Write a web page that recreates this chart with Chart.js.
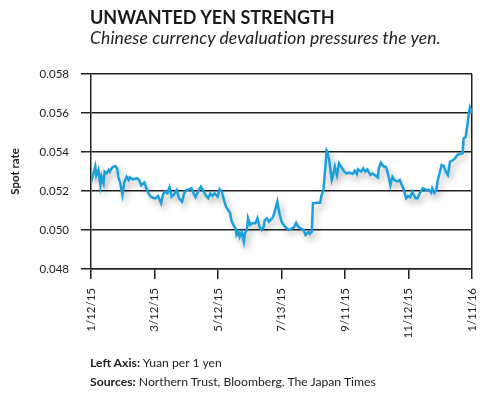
<!DOCTYPE html>
<html lang="en">
<head>
<meta charset="UTF-8">
<title>Unwanted Yen Strength</title>
<script src="https://cdn.jsdelivr.net/npm/chart.js"></script>
<style>
  body { margin: 0; background: #fff; font-family: 'Lato', sans-serif; color: #1a1a1a; }
  .wrap { position: relative; width: 500px; height: 398px; overflow: hidden; }
  canvas { position: absolute; left: 0; top: 0; }
  .title { position: absolute; left: 90px; top: 6px; font: bold 18px 'Lato', sans-serif; white-space: nowrap; }
  .subtitle { position: absolute; left: 90px; top: 27px; font: italic 17.5px 'Lato', sans-serif; color: #222; white-space: nowrap; letter-spacing: 0.1px; }
  .note { position: absolute; left: 90px; font-size: 12.2px; color: #222; white-space: nowrap; }
  .note b { font-weight: bold; }
</style>
</head>
<body>
<div class="wrap">
  <canvas id="chart" width="500" height="398"></canvas>
  <div class="title">UNWANTED YEN STRENGTH</div>
  <div class="subtitle">Chinese currency devaluation pressures the yen.</div>
  <div class="note" style="top:355px"><b>Left Axis:</b> Yuan per 1 yen</div>
  <div class="note" style="top:374px"><b>Sources:</b> Northern Trust, Bloomberg, The Japan Times</div>
</div>
<script>
// x tick labels (equally spaced across the year)
const tickLabels = ['1/12/15', '3/12/15', '5/12/15', '7/13/15', '9/11/15', '11/12/15', '1/11/16'];
const totalDays = 364;

// days since 1/12/15
const days = [0, 2, 4, 5, 7, 9, 10, 12, 13, 15, 17, 18, 20, 23, 25, 26, 28, 30, 32, 34,
  36, 37, 40, 44, 46, 48, 51, 53, 55, 57, 60, 62, 64, 67, 69, 71, 73, 75, 77, 79,
  82, 84, 87, 89, 91, 94, 96, 98, 100, 103, 105, 107, 110, 112, 114, 116, 118, 121, 123, 125,
  127, 129, 131, 133, 134, 136, 138, 139, 141, 142, 144, 146, 147, 149, 150, 152, 154, 157, 159, 161,
  163, 165, 166, 168, 170, 173, 174, 176, 178, 180, 182, 184, 187, 189, 192, 194, 196, 198, 200, 203,
  205, 208, 209, 211, 212, 216, 219, 220, 222, 224, 225, 226, 228, 230, 231, 233, 235, 237, 240, 242,
  244, 247, 250, 252, 254, 255, 258, 260, 262, 264, 267, 269, 271, 274, 275, 277, 279, 282, 284, 286,
  288, 290, 293, 295, 297, 299, 301, 303, 305, 307, 310, 312, 314, 317, 319, 321, 323, 325, 326, 328,
  330, 331, 333, 335, 337, 339, 341, 343, 346, 348, 350, 353, 355, 356, 358, 360, 361, 362, 363, 364];

// yuan per 1 yen
const rates = [0.05248, 0.05282, 0.05325, 0.05280, 0.05308, 0.05230, 0.05273, 0.05240, 0.05299, 0.05290,
  0.05308, 0.05299, 0.05320, 0.05328, 0.05316, 0.05273, 0.05240, 0.05180, 0.05248, 0.05273,
  0.05256, 0.05270, 0.05260, 0.05265, 0.05256, 0.05230, 0.05243, 0.05214, 0.05188, 0.05171,
  0.05163, 0.05163, 0.05174, 0.05137, 0.05185, 0.05196, 0.05188, 0.05219, 0.05171, 0.05180,
  0.05205, 0.05163, 0.05145, 0.05188, 0.05205, 0.05209, 0.05214, 0.05188, 0.05168, 0.05205,
  0.05222, 0.05205, 0.05174, 0.05163, 0.05188, 0.05174, 0.05188, 0.05171, 0.05209, 0.05196,
  0.05154, 0.05120, 0.05103, 0.05086, 0.05051, 0.05026, 0.05009, 0.04974, 0.04991, 0.04966,
  0.04991, 0.04940, 0.04983, 0.05000, 0.05060, 0.05026, 0.05034, 0.05034, 0.05060, 0.05017,
  0.05000, 0.05017, 0.05051, 0.05060, 0.05043, 0.05060, 0.05068, 0.05103, 0.05145, 0.05086,
  0.05043, 0.05026, 0.05009, 0.05000, 0.05009, 0.05014, 0.05037, 0.05017, 0.05009, 0.05000,
  0.04974, 0.04991, 0.04980, 0.04991, 0.05137, 0.05140, 0.05140, 0.05171, 0.05205, 0.05325,
  0.05410, 0.05402, 0.05342, 0.05256, 0.05273, 0.05325, 0.05282, 0.05342, 0.05316, 0.05299,
  0.05290, 0.05294, 0.05287, 0.05304, 0.05287, 0.05311, 0.05299, 0.05316, 0.05299, 0.05311,
  0.05282, 0.05290, 0.05282, 0.05270, 0.05316, 0.05345, 0.05328, 0.05322, 0.05282, 0.05230,
  0.05273, 0.05256, 0.05248, 0.05256, 0.05230, 0.05205, 0.05163, 0.05174, 0.05168, 0.05196,
  0.05163, 0.05163, 0.05188, 0.05214, 0.05209, 0.05205, 0.05205, 0.05191, 0.05214, 0.05191,
  0.05205, 0.05248, 0.05290, 0.05333, 0.05328, 0.05299, 0.05282, 0.05350, 0.05359, 0.05368,
  0.05385, 0.05390, 0.05393, 0.05470, 0.05478, 0.05555, 0.05598, 0.05629, 0.05615, 0.05598];

const points = days.map((d, i) => ({ x: d, y: rates[i] }));

// soft drop shadow under the line
const lineShadow = {
  id: 'lineShadow',
  beforeDatasetDraw(chart) {
    const c = chart.ctx;
    c.save();
    c.shadowColor = 'rgba(0,0,0,0.28)';
    c.shadowBlur = 6;
    c.shadowOffsetX = 3;
    c.shadowOffsetY = 4;
  },
  afterDatasetDraw(chart) {
    chart.ctx.restore();
  }
};

const axisColor = '#222';

new Chart(document.getElementById('chart'), {
  type: 'line',
  data: {
    datasets: [{
      data: points,
      borderColor: '#1ba0dc',
      borderWidth: 2.5,
      pointRadius: 0,
      tension: 0,
      fill: false
    }]
  },
  options: {
    responsive: false,
    animation: false,
    events: [],
    layout: { padding: { top: 74, left: 0, right: 28, bottom: 49 } },
    plugins: { legend: { display: false }, tooltip: { enabled: false } },
    scales: {
      x: {
        type: 'linear',
        min: 0,
        max: totalDays,
        afterBuildTicks(scale) {
          scale.ticks = tickLabels.map((_, i) => ({ value: i * totalDays / (tickLabels.length - 1) }));
        },
        afterFit(scale) { scale.height = 80; },
        ticks: {
          autoSkip: false,
          minRotation: 90,
          maxRotation: 90,
          padding: 9,
          color: '#222',
          font: { family: 'Lato', size: 11.5 },
          callback: (v, i) => tickLabels[i]
        },
        grid: {
          drawOnChartArea: true,
          color: (ctx) => ctx.index === tickLabels.length - 1 ? axisColor : 'rgba(0,0,0,0)',
          tickColor: axisColor,
          tickLength: 10,
          lineWidth: 1.5
        },
        border: { display: true, color: axisColor, width: 1.5 }
      },
      y: {
        min: 0.048,
        max: 0.058,
        afterFit(scale) { scale.width = 91; },
        ticks: {
          stepSize: 0.002,
          padding: 12,
          color: '#222',
          font: { family: 'Lato', size: 11.5 },
          callback: (v) => v.toFixed(3)
        },
        grid: { color: axisColor, tickColor: axisColor, tickLength: 10, lineWidth: 1.5 },
        border: { display: true, color: axisColor, width: 1.5 },
        title: {
          display: true,
          text: 'Spot rate',
          color: '#222',
          font: { family: 'Lato', size: 11.5, weight: 'bold' },
          padding: { top: 8, bottom: 0 }
        }
      }
    }
  },
  plugins: [lineShadow]
});
</script>
</body>
</html>
